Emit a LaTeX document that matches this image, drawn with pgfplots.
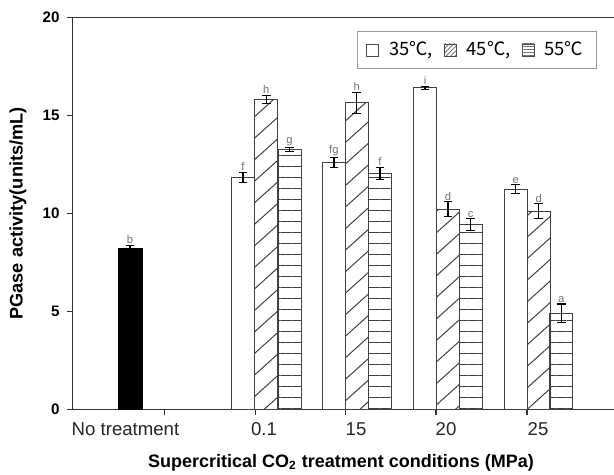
\documentclass[border=0pt]{standalone}
\usepackage{fontspec}
\setmainfont{Liberation Sans}
\newfontfamily\cjk{Noto Sans CJK KR}
\usepackage{pgfplots}
\usepackage{pgfplotstable}
\pgfplotsset{compat=1.18}
\usetikzlibrary{patterns.meta}

% x is in picture pixels (axis runs 72.7 .. 614)
\pgfplotstableread{
x     y     e
243.0 11.84 0.25
333.9 12.60 0.27
425.0 16.41 0.07
515.8 11.24 0.22
}\tA
\pgfplotstableread{
x     y     e
266.3 15.81 0.22
356.7 15.64 0.54
448.0 10.22 0.37
538.7 10.12 0.37
}\tB
\pgfplotstableread{
x     y     e
289.5 13.25 0.10
380.0 12.03 0.32
470.7  9.42 0.30
561.2  4.90 0.48
}\tC

\begin{document}
\begin{tikzpicture}
\begin{axis}[
  name=ax,
  scale only axis, width=270.65pt, height=195.9pt,
  xmin=72.7, xmax=614, ymin=0, ymax=20,
  axis x line=box, axis y line=left,
  axis line style={-, line width=0.7pt, black!80},
  every outer y axis line/.append style={-},
  tick align=outside, major tick length=3pt,
  tick style={black!80, line width=0.6pt},
  xtick pos=left,
  xtick={164.3,255.7,345.7,436,527}, xticklabels={,,,,},
  extra x ticks={125.5,264,356,446,538},
  extra x tick labels={No treatment,0.1,15,20,25},
  extra x tick style={major tick length=0pt},
  xticklabel style={font=\fontsize{9.3}{11}\selectfont, text=black!85, yshift=-3.3pt},
  ytick={0,5,10,15,20},
  yticklabel style={font=\bfseries\fontsize{7.6}{9}\selectfont},
  /pgf/number format/assume math mode=true,
  xlabel={Supercritical CO\textsubscript{2} treatment conditions (MPa)},
  ylabel={PGase activity(units/mL)},
  every axis x label/.style={at={(rel axis cs:0.4957,-0.137)}, anchor=center, font=\bfseries\fontsize{9}{11}\selectfont},
  every axis y label/.style={at={(rel axis cs:-0.101,0.5)}, rotate=90, anchor=center, font=\bfseries\fontsize{9.1}{11}\selectfont},
  legend style={at={(0.9686,0.9663)}, anchor=north east, draw=gray!80, line width=0.7pt,
    font=\cjk\fontsize{9.2}{11}\selectfont, inner xsep=4.5pt, inner ysep=3pt,
    /tikz/every odd column/.append style={column sep=3pt},
    /tikz/every even column/.append style={column sep=3.5pt}},
  legend columns=3, legend cell align=left,
]
% no treatment
\addplot[ybar, bar width=24, bar shift=0pt, fill=black, draw=black, forget plot,
  error bars/.cd, y dir=both, y explicit,
  error mark options={rotate=90, mark size=2.2pt, line width=0.6pt, black},
  error bar style={line width=0.6pt, black}]
  coordinates {(130,8.22) +- (0,0.15)};

\addplot[ybar, bar width=23, bar shift=0pt, fill=white, draw=black!75, line width=0.5pt,
  legend image code/.code={\draw[draw=black!70, line width=0.4pt, fill=white] (0pt,-3pt) rectangle (6pt,3pt);},
  error bars/.cd, y dir=both, y explicit,
  error mark options={rotate=90, mark size=2.2pt, line width=0.6pt, black},
  error bar style={line width=0.6pt, black}]
  table[x=x, y=y, y error=e]{\tA};
\addlegendentry{35℃,}

\addplot[ybar, bar width=23, bar shift=0pt, fill=white, draw=black!75, line width=0.5pt,
  pattern={Lines[angle=42, distance=8pt, line width=0.5pt]}, pattern color=black!75,
  legend image code/.code={\draw[draw=black!70, line width=0.4pt, pattern={Lines[angle=45, distance=1.6pt, line width=0.4pt]}, pattern color=black!60] (0pt,-3pt) rectangle (6pt,3pt);},
  error bars/.cd, y dir=both, y explicit,
  error mark options={rotate=90, mark size=2.2pt, line width=0.6pt, black},
  error bar style={line width=0.6pt, black}]
  table[x=x, y=y, y error=e]{\tB};
\addlegendentry{45℃,}

\addplot[ybar, bar width=23, bar shift=0pt, fill=white, draw=black!75, line width=0.5pt,
  pattern={Lines[angle=0, distance=5.5pt, line width=0.5pt]}, pattern color=black!75,
  legend image code/.code={\draw[draw=black!70, line width=0.4pt, pattern={Lines[angle=0, distance=1.5pt, line width=0.4pt]}, pattern color=black!60] (0pt,-3pt) rectangle (6pt,3pt);},
  error bars/.cd, y dir=both, y explicit,
  error mark options={rotate=90, mark size=2.2pt, line width=0.6pt, black},
  error bar style={line width=0.6pt, black}]
  table[x=x, y=y, y error=e]{\tC};
\addlegendentry{55℃}

% significance letters, placed on top of the error bars
\addplot[draw=none, mark=none, forget plot, nodes near coords, point meta=explicit symbolic,
  every node near coord/.style={font=\fontsize{5.6}{6}\selectfont, text=black!55, anchor=south, inner sep=0.6pt}]
  coordinates {
  (130,8.37)[b]
  (243.0,12.09)[f] (333.9,12.87)[fg] (425.0,16.48)[i] (515.8,11.46)[e]
  (266.3,16.03)[h] (356.7,16.18)[h] (448.0,10.59)[d] (538.7,10.49)[d]
  (289.5,13.35)[g] (380.0,12.35)[f] (470.7,9.72)[c] (561.2,5.38)[a]
  };
\end{axis}
\pgfresetboundingbox
\path[use as bounding box] ([xshift=-36.35pt,yshift=-32.85pt]ax.south west) rectangle ([yshift=8.75pt]ax.north east);
\end{tikzpicture}
\end{document}
